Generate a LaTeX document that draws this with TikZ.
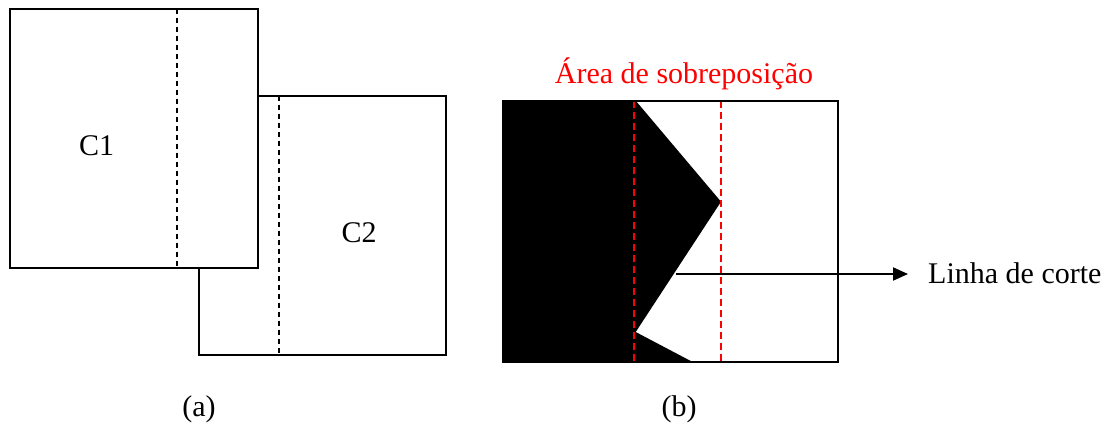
\documentclass[tikz,border=0pt]{standalone}
\usepackage{fontspec}
\setmainfont{Liberation Serif}
\usetikzlibrary{arrows.meta}
\begin{document}
\begin{tikzpicture}[x=1pt,y=-1pt,
  box/.style={draw=black,line width=2pt,fill=white,inner sep=0pt,outer sep=0pt},
  cutdash/.style={draw=black,line width=1.6pt,dash pattern=on 5.5pt off 3.5pt},
  reddash/.style={draw=red,line width=1.6pt,dash pattern=on 7pt off 4pt},
  lbl/.style={inner sep=0pt,font=\fontsize{30}{36}\selectfont},
  arr/.style={line width=2pt,-{Triangle[length=15pt,width=13pt]}}]
\useasboundingbox (0,0) rectangle (1108,425);
% (a)
\node[box,minimum width=246.7pt,minimum height=259.3pt] (c2) at (322.65,225.35) {};
\draw[cutdash] (279,95.7) -- (279,355);
\node[box,minimum width=247.7pt,minimum height=259.3pt] (c1) at (133.85,138.35) {};
\draw[cutdash] (176.7,8.7) -- (176.7,268);
\node[lbl,anchor=base] (t1) at (96.7,155) {C1};
\node[lbl,anchor=base] (t2) at (359,242) {C2};
\node[lbl,anchor=base] (la) at (199,416) {(a)};
% (b)
\fill[black] (502.7,100.7) -- (635.7,100.7) -- (721,201.7) -- (635.7,332) -- (691.7,361.5) -- (502.7,361.5) -- cycle;
\draw[reddash] (634,100.7) -- (634,361.5);
\draw[reddash] (721,100.7) -- (721,361.5);
\draw[line width=2pt] (502.7,100.7) rectangle (838,361.5);
\node[lbl,anchor=base,text=red] (title) at (684,84) {Área de sobreposição};
\coordinate (cs) at (676,274);
\node[lbl,anchor=base west] (cut) at (928,283) {Linha de corte};
\draw[arr,shorten >=20pt] (cs) -- (cs -| cut.west);
\node[lbl,anchor=base] (lb) at (679,416) {(b)};
\end{tikzpicture}
\end{document}
